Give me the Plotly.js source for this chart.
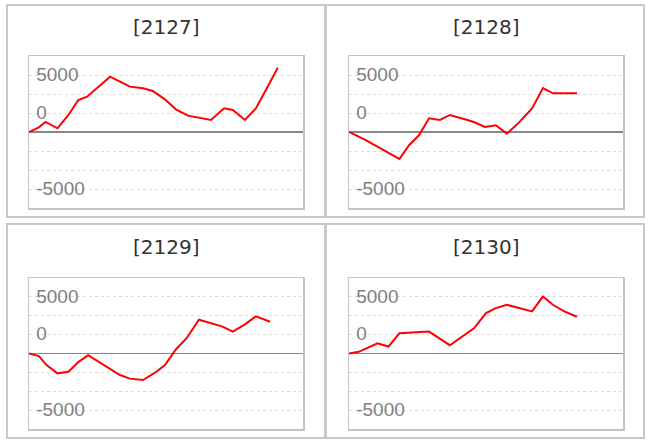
<!DOCTYPE html>
<html>
<head>
<meta charset="utf-8">
<script src="https://cdn.plot.ly/plotly-3.0.1.min.js"></script>
<style>
body { margin: 0; background: #fff; }
#chart { width: 653px; height: 443px; }
</style>
</head>
<body>
<div id="chart"></div>
<script>
// values
let titles = ["[2127]", "[2128]", "[2129]", "[2130]"]

let x2127 = [0, 0.9, 1.5, 2.6, 3.6, 4.5, 5.3, 6.4, 7.4, 8.3, 9.2, 10.4, 11.3, 12.4, 13.4, 14.5, 15.6, 16.6, 17.8, 18.6, 19.7, 20.7, 21.7, 22.7]
let y2127 = [0, 610, 1320, 480, 2240, 4210, 4650, 6050, 7280, 6620, 5970, 5750, 5390, 4300, 2980, 2150, 1890, 1580, 3110, 2900, 1580, 3110, 5750, 8470]

let x2128 = [0, 1.4, 4.6, 5.5, 6.4, 7.3, 8.3, 9.2, 10.4, 11.4, 12.4, 13.4, 14.4, 15.5, 16.7, 17.7, 18.6, 19.7, 20.8]
let y2128 = [0, -970, -3550, -1710, -400, 1800, 1580, 2240, 1750, 1320, 660, 880, -220, 1230, 3110, 5790, 5090, 5090, 5090]

let x2129 = [0, 0.9, 1.6, 2.6, 3.6, 4.5, 5.4, 6.5, 7.4, 8.3, 9.2, 10.4, 11.5, 12.4, 13.4, 14.4, 15.5, 16.6, 17.6, 18.6, 19.7, 20.7, 22.0]
let y2129 = [0, -350, -1540, -2630, -2410, -1140, -220, -1230, -2020, -2850, -3330, -3510, -2540, -1540, 530, 2060, 4470, 4040, 3600, 2900, 3860, 4910, 4210]

let x2130 = [0, 0.9, 2.6, 3.6, 4.6, 6.0, 7.3, 9.2, 10.4, 11.4, 12.5, 13.4, 14.4, 15.5, 16.7, 17.7, 18.6, 19.6, 20.8]
let y2130 = [0, 220, 1360, 920, 2680, 2760, 2900, 1100, 2280, 3330, 5350, 6010, 6450, 6010, 5570, 7540, 6450, 5610, 4870]

let gridVals = [-10000, -7500, -5000, -2500, 0, 2500, 5000, 7500, 10000]
let gridText = ["", "-5000", "", "", "", "0", "", "5000", ""]

let series = [[x2127, y2127], [x2128, y2128], [x2129, y2129], [x2130, y2130]]

// pixel boxes of the panels
let boxes = [
    { left: 29, right: 303, top: 56, bottom: 208, bl: 7, br: 325, bt: 5, bb: 217, ty: 27 },
    { left: 349, right: 623, top: 56, bottom: 208, bl: 326, br: 644, bt: 5, bb: 217, ty: 27 },
    { left: 29, right: 303, top: 278, bottom: 429, bl: 7, br: 325, bt: 224, bb: 438, ty: 247 },
    { left: 349, right: 623, top: 278, bottom: 429, bl: 326, br: 644, bt: 224, bb: 438, ty: 247 }
]

function px(x) { return x / 653 }
function py(y) { return 1 - y / 443 }

let traces = []
let layout = {
    width: 653,
    height: 443,
    margin: { l: 0, r: 0, t: 0, b: 0 },
    paper_bgcolor: "#ffffff",
    plot_bgcolor: "#ffffff",
    showlegend: false,
    annotations: [],
    shapes: []
}

for (let i = 0; i < 4; i++) {
    let n = i == 0 ? "" : String(i + 1)
    let b = boxes[i]

    traces.push({
        x: series[i][0],
        y: series[i][1],
        xaxis: "x" + n,
        yaxis: "y" + n,
        type: "scatter",
        mode: "lines",
        line: { color: "#ff0000", width: 2 },
        hoverinfo: "skip"
    })

    layout["xaxis" + n] = {
        domain: [px(b.left), px(b.right)],
        anchor: "y" + n,
        range: [0, 25],
        showgrid: false,
        zeroline: false,
        showticklabels: false,
        ticks: "",
        showline: true,
        mirror: true,
        linecolor: "#c4c4c4",
        linewidth: 1.5
    }

    layout["yaxis" + n] = {
        domain: [py(b.bottom), py(b.top)],
        anchor: "x" + n,
        range: [-10000, 10000],
        tickmode: "array",
        tickvals: gridVals,
        ticktext: gridText,
        ticks: "",
        ticklabelposition: "inside",
        ticklabelstandoff: 8,
        ticklabelshift: -1,
        tickfont: { family: "Liberation Sans, Arial, sans-serif", size: 19, color: "#808080" },
        showgrid: true,
        gridcolor: "#dcdcdc",
        gridwidth: 1,
        griddash: "dot",
        zeroline: true,
        zerolinecolor: "#888888",
        zerolinewidth: 1.5,
        showline: true,
        mirror: true,
        linecolor: "#c4c4c4",
        linewidth: 1.5
    }

    layout.annotations.push({
        text: titles[i],
        xref: "paper",
        yref: "paper",
        x: px((b.left + b.right) / 2),
        y: py(b.ty),
        xanchor: "center",
        yanchor: "middle",
        showarrow: false,
        font: { family: "DejaVu Sans, sans-serif", size: 20, color: "#333333" }
    })

    layout.shapes.push({
        type: "rect",
        xref: "paper",
        yref: "paper",
        x0: px(b.bl),
        x1: px(b.br),
        y0: py(b.bb),
        y1: py(b.bt),
        line: { color: "#c8c8c8", width: 2 }
    })
}

Plotly.newPlot("chart", traces, layout, { staticPlot: true, displayModeBar: false })
</script>
</body>
</html>
